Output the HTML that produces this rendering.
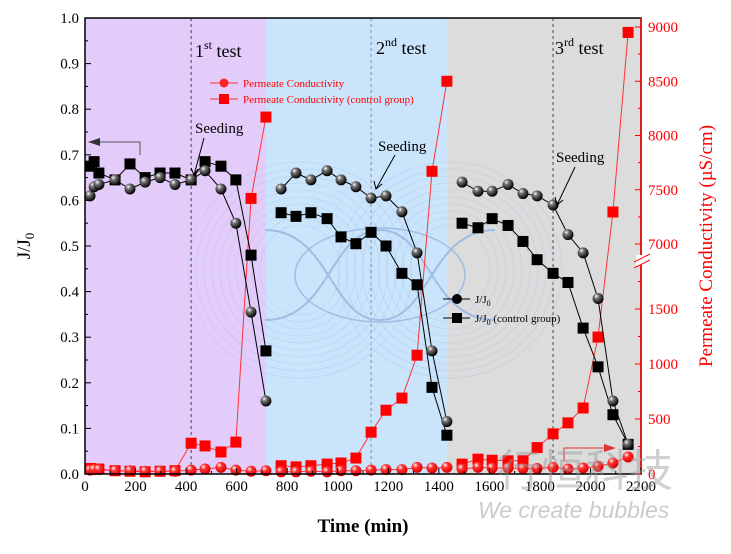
<!DOCTYPE html>
<html><head><meta charset="utf-8"><style>
body{margin:0;background:#fff;}
svg{display:block;font-family:"Liberation Serif",serif;}
</style></head><body>
<svg id="chart" width="731" height="554" viewBox="0 0 731 554" xmlns="http://www.w3.org/2000/svg">
<defs>
<radialGradient id="ball" cx="0.35" cy="0.3" r="0.7"><stop offset="0" stop-color="#fff"/><stop offset="0.3" stop-color="#777"/><stop offset="1" stop-color="#000"/></radialGradient>
<radialGradient id="rball" cx="0.35" cy="0.3" r="0.7"><stop offset="0" stop-color="#fff"/><stop offset="0.35" stop-color="#f33"/><stop offset="1" stop-color="#d00"/></radialGradient>
<clipPath id="plotclip"><rect x="85" y="18" width="556" height="456"/></clipPath>
</defs>
<g id="bg"></g>
<g id="deco" clip-path="url(#plotclip)"></g>
<g id="marks"></g>
<g id="axes"></g>
</svg>
<script>
const tTest1=[20,36,55,119,178,238,297,356,420,475,538,597,657,716];
const tTest2=[776,835,894,958,1013,1072,1132,1191,1254,1314,1373,1432];
const tTest3=[1492,1555,1611,1674,1733,1789,1852,1911,1971,2030,2089,2149];
const jCirc1=[0.61,0.63,0.635,0.645,0.625,0.64,0.65,0.635,0.645,0.665,0.625,0.55,0.355,0.16];
const jSq1=[0.675,0.685,0.66,0.645,0.68,0.65,0.66,0.66,0.645,0.685,0.675,0.645,0.48,0.27];
const jCirc2=[0.625,0.66,0.645,0.665,0.645,0.63,0.605,0.61,0.575,0.485,0.27,0.115];
const jSq2=[0.573,0.565,0.573,0.56,0.52,0.505,0.53,0.50,0.44,0.415,0.19,0.085];
const jCirc3=[0.64,0.62,0.62,0.635,0.615,0.61,0.59,0.525,0.485,0.385,0.16,0.065];
const jSq3=[0.55,0.54,0.56,0.545,0.51,0.47,0.44,0.42,0.32,0.235,0.13,0.065];
const cCirc1=[35,40,40,30,30,25,25,25,35,45,60,35,25,30];
const cSq1=[50,45,45,30,25,20,25,30,280,255,200,290,7420,8170];
const cCirc2=[20,20,25,20,30,30,35,40,40,60,55,60];
const cSq2=[75,65,75,90,100,145,380,580,690,1080,7670,8500];
const cCirc3=[45,60,55,55,50,50,60,45,55,70,100,155];
const cSq3=[90,135,125,120,120,240,365,465,600,1245,7295,8950];
const xTicks=[0,200,400,600,800,1000,1200,1400,1600,1800,2000,2200];
const yTicks=[0,0.1,0.2,0.3,0.4,0.5,0.6,0.7,0.8,0.9,1.0];
const rTicksLow=[0,500,1000,1500];
const rTicksHigh=[7000,7500,8000,8500,9000];
const regionBounds=[0,716,1432,2200];
const seedTimes=[420,1132,1852];

const NS="http://www.w3.org/2000/svg";
const X=t=>85+t*(556/2200);
const YL=v=>474-v*456;
const YR=c=>c<=2000?474-c*0.11:244-(c-7000)*0.1085;
function el(tag,attrs,parent,txt){const e=document.createElementNS(NS,tag);for(const k in attrs)e.setAttribute(k,attrs[k]);if(txt!==undefined)e.textContent=txt;parent.appendChild(e);return e;}
const bg=document.getElementById('bg'),deco=document.getElementById('deco'),marks=document.getElementById('marks'),axes=document.getElementById('axes');

const regColors=['#e3cbfa','#cae4fb','#dcdcdc'];
const regNames=['test1-region','test2-region','test3-region'];
for(let i=0;i<3;i++){
 const r=el('rect',{x:X(regionBounds[i]),y:18,width:X(regionBounds[i+1])-X(regionBounds[i]),height:456,fill:regColors[i]},bg);
 
 
}
for(let k=0;k<10;k++){
 el('ellipse',{cx:300,cy:270,rx:40+k*8,ry:45+k*7,fill:'none',stroke:'#a8c4e6','stroke-width':0.6,opacity:0.6},deco);
 el('ellipse',{cx:450,cy:270,rx:40+k*8,ry:45+k*7,fill:'none',stroke:'#a8c4e6','stroke-width':0.6,opacity:0.6},deco);
}
el('path',{d:'M265 230 C330 230 330 320 380 320 C430 320 430 230 495 230 M265 320 C330 320 330 230 380 230 C430 230 430 320 495 320',fill:'none',stroke:'#9dbde3','stroke-width':2},deco);
el('ellipse',{cx:380,cy:275,rx:85,ry:47,fill:'none',stroke:'#9dbde3','stroke-width':1.5},deco);

seedTimes.forEach((s,i)=>{
 const l=el('line',{x1:X(s),x2:X(s),y1:18,y2:474,stroke:i==1?'#7f8fa0':'#444','stroke-width':1,'stroke-dasharray':'3,3'},bg);
 
 
});

function series(ts,vs,Y,color,shape,name){
 const g=el('g',{},marks);
 
 
 el('polyline',{points:ts.map((t,i)=>X(t)+','+Y(vs[i])).join(' '),fill:'none',stroke:color,'stroke-width':1},g);
 ts.forEach((t,i)=>{
  let m;
  if(shape=='sq') m=el('rect',{x:X(t)-5.5,y:Y(vs[i])-5.5,width:11,height:11,fill:color=='#000'?'#000':'#f00'},g);
  else m=el('circle',{cx:X(t),cy:Y(vs[i]),r:5.5,fill:color=='#000'?'url(#ball)':'url(#rball)'},g);
  
  
 });
}
series(tTest1,cSq1,YR,'#f33','sq','conductivity-control-test1');
series(tTest2,cSq2,YR,'#f33','sq','conductivity-control-test2');
series(tTest3,cSq3,YR,'#f33','sq','conductivity-control-test3');
series(tTest1,cCirc1,YR,'#f33','c','conductivity-test1');
series(tTest2,cCirc2,YR,'#f33','c','conductivity-test2');
series(tTest3,cCirc3,YR,'#f33','c','conductivity-test3');
series(tTest1,jSq1,YL,'#000','sq','flux-control-test1');
series(tTest2,jSq2,YL,'#000','sq','flux-control-test2');
series(tTest3,jSq3,YL,'#000','sq','flux-control-test3');
series(tTest1,jCirc1,YL,'#000','c','flux-test1');
series(tTest2,jCirc2,YL,'#000','c','flux-test2');
series(tTest3,jCirc3,YL,'#000','c','flux-test3');

el('rect',{x:85,y:18,width:556,height:456,fill:'none',stroke:'#000','stroke-width':1.5},axes);
el('line',{x1:641,y1:18,x2:641,y2:474,stroke:'#f00','stroke-width':1.5},axes);
xTicks.forEach(t=>{
 el('line',{x1:X(t),x2:X(t),y1:474,y2:468,stroke:'#000'},axes);
 const tx=el('text',{x:X(t),y:491,'text-anchor':'middle','font-size':15},axes,t);
 
 
});
for(let t=100;t<2200;t+=200) el('line',{x1:X(t),x2:X(t),y1:474,y2:471,stroke:'#000'},axes);
yTicks.forEach(v=>{
 el('line',{x1:85,x2:91,y1:YL(v),y2:YL(v),stroke:'#000'},axes);
 const tx=el('text',{x:79,y:YL(v)+5,'text-anchor':'end','font-size':15},axes,v.toFixed(1));
 
 
});
for(let v=0.05;v<1;v+=0.1) el('line',{x1:85,x2:88,y1:YL(v),y2:YL(v),stroke:'#000'},axes);
rTicksLow.concat(rTicksHigh).forEach(c=>{
 el('line',{x1:641,x2:635,y1:YR(c),y2:YR(c),stroke:'#f00'},axes);
 const tx=el('text',{x:648,y:YR(c)+5,'font-size':15,fill:'#f00'},axes,c);
 
 
});
[250,750,1250,1750,7250,7750,8250,8750].forEach(c=>el('line',{x1:641,x2:638,y1:YR(c),y2:YR(c),stroke:'#f00'},axes));
el('rect',{x:636,y:255,width:12,height:10,fill:'#fff'},axes);
el('line',{x1:634,y1:262,x2:650,y2:254,stroke:'#f00'},axes);
el('line',{x1:634,y1:268,x2:650,y2:260,stroke:'#f00'},axes);
</script>
<svg width="731" height="554" style="position:absolute;left:0;top:0" font-family="Liberation Serif, serif">
<text x="363" y="532" text-anchor="middle" font-size="19" font-weight="bold">Time (min)</text>
<text transform="translate(30,246) rotate(-90)" text-anchor="middle" font-size="19">J/J<tspan font-size="13" dy="4">0</tspan></text>
<text transform="translate(712,246) rotate(-90)" text-anchor="middle" font-size="19" fill="#f00">Permeate Conductivity (µS/cm)</text>
<text x="195" y="57" font-size="18">1<tspan font-size="12" dy="-8">st</tspan><tspan dy="8"> test</tspan></text>
<text x="376" y="54" font-size="18">2<tspan font-size="12" dy="-8">nd</tspan><tspan dy="8"> test</tspan></text>
<text x="555" y="54" font-size="18">3<tspan font-size="12" dy="-8">rd</tspan><tspan dy="8"> test</tspan></text>
<text x="195" y="133" font-size="15">Seeding</text>
<text x="378" y="151" font-size="15">Seeding</text>
<text x="556" y="162" font-size="15">Seeding</text>
<path d="M204 138 L194 175 M191 168 L194 175 L198 169" stroke="#000" fill="none"/>
<path d="M395 155 L376 189 M374 181 L376 189 L382 184" stroke="#000" fill="none"/>
<path d="M575 167 L557 205 M555 197 L557 205 L563 200" stroke="#000" fill="none"/>
<g>
<path d="M140 155 L140 142 L96 142" stroke="#555" fill="none"/>
<path d="M88 142 L100 138 L100 146 Z" fill="#333"/>
</g>
<g>
<path d="M564 461 L564 448 L608 448" stroke="#d33" fill="none"/>
<path d="M616 448 L604 444 L604 452 Z" fill="#d33"/>
</g>
<g font-size="11" fill="#f00">
<line x1="210" y1="83" x2="238" y2="83" stroke="#f33"/><circle cx="224" cy="83" r="4.5" fill="#f22"/>
<text x="243" y="87">Permeate Conductivity</text>
<line x1="210" y1="99" x2="238" y2="99" stroke="#f33"/><rect x="219" y="94" width="10" height="10" fill="#f00"/>
<text x="243" y="103">Permeate Conductivity (control group)</text>
</g>
<g font-size="11">
<line x1="443" y1="299" x2="470" y2="299" stroke="#000"/><circle cx="457" cy="299" r="5" fill="#000"/>
<text x="475" y="303">J/J<tspan font-size="8" dy="3">0</tspan></text>
<line x1="443" y1="318" x2="470" y2="318" stroke="#000"/><rect x="452" y="313" width="10" height="10" fill="#000"/>
<text x="475" y="322">J/J<tspan font-size="8" dy="3">0</tspan><tspan dy="-3"> (control group)</tspan></text>
</g>
<text x="497" y="486" font-size="44" fill="#999" opacity="0.45" font-family="Noto Sans CJK SC, sans-serif">行恒科技</text>
<text x="478" y="518" font-size="23" fill="#aaa" opacity="0.6" font-style="italic" font-family="Liberation Sans, sans-serif">We create bubbles</text>
</svg>
</body></html>
